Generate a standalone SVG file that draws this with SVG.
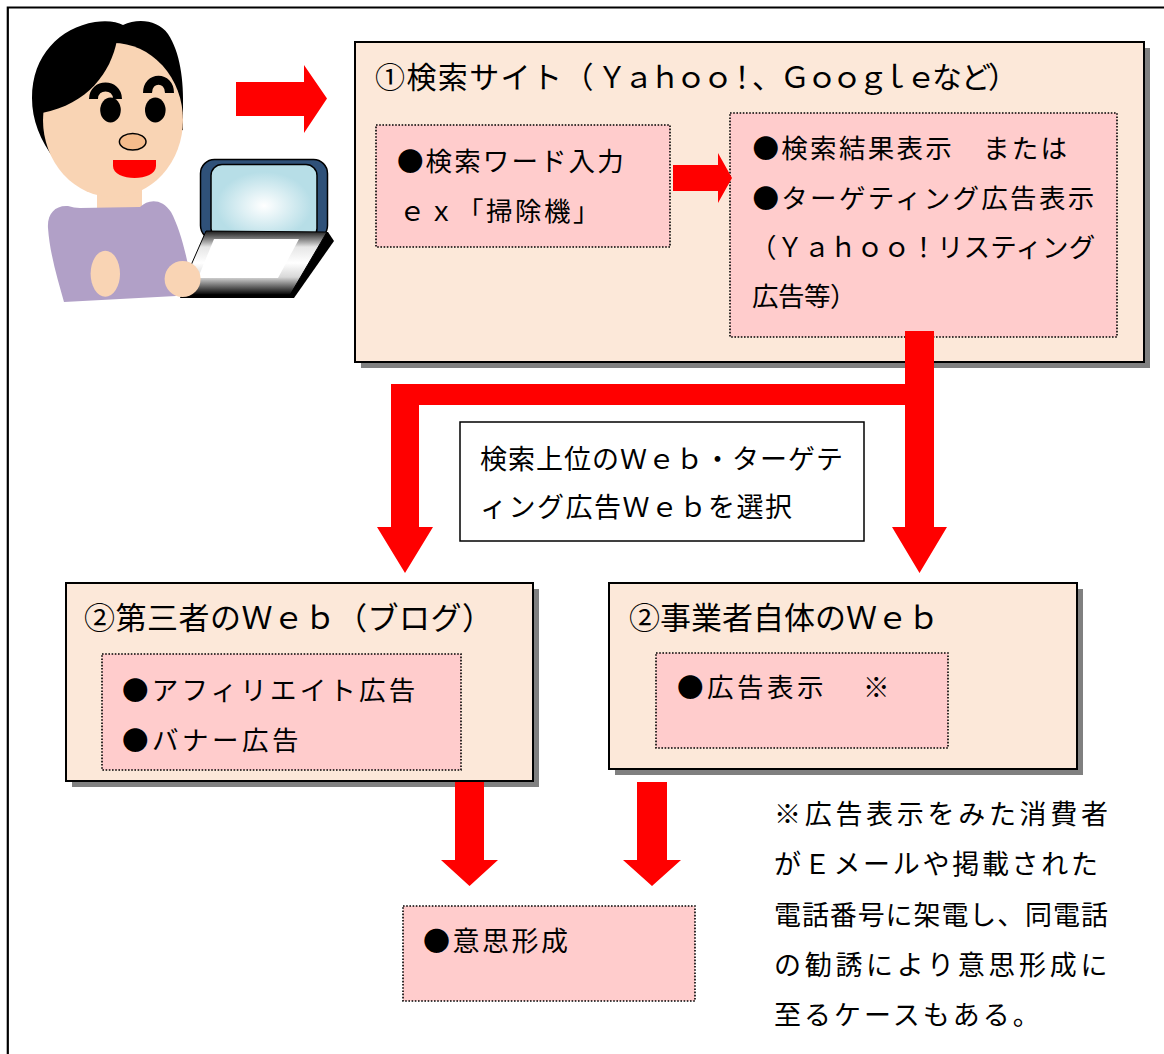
<svg xmlns="http://www.w3.org/2000/svg" width="1164" height="1054" viewBox="0 0 1164 1054">
  <style>
    text { font-family: "Noto Sans CJK JP", "Noto Sans CJK SC", sans-serif; fill: #000; }
    .box { fill: #FCE8D9; stroke: #000; stroke-width: 2; }
    .shadow { fill: #808080; }
    .inner { fill: #FFCCCC; stroke: #000; stroke-width: 1.6; stroke-dasharray: 1.6 1.6; }
    .arrow { fill: #FF0000; }
    .skin { fill: #F9D4B4; }
    .t30 { font-size: 30px; }
    .t31 { font-size: 31px; }
    .t26 { font-size: 26.5px; }
    .t27 { font-size: 27px; }
  </style>
  <defs>
    <radialGradient id="screenGlow" cx="0.5" cy="0.55" r="0.6">
      <stop offset="0" stop-color="#FFFFFF"/>
      <stop offset="0.75" stop-color="#B7DEE7"/>
      <stop offset="1" stop-color="#B7DEE7"/>
    </radialGradient>
    <linearGradient id="baseMetal" x1="0" y1="0" x2="0" y2="1">
      <stop offset="0" stop-color="#1A1A1A"/>
      <stop offset="0.25" stop-color="#E6E6E6"/>
      <stop offset="0.5" stop-color="#FFFFFF"/>
      <stop offset="0.72" stop-color="#D8D8D8"/>
      <stop offset="1" stop-color="#000000"/>
    </linearGradient>
  </defs>

  <rect width="1164" height="1054" fill="#FFFFFF"/>

  <!-- page frame -->
  <path d="M7.8,1054 V7.5 H1164" fill="none" stroke="#000" stroke-width="2.2"/>

  <!-- person at a laptop -->
  <g id="user">
    <rect class="skin" x="97" y="178" width="45" height="32"/>
    <path d="M123,25 C138,18 158,20 168,34 C180,52 184,80 183,110 L183,130 L55,160 C40,140 32,120 32,98 C32,55 60,28 95,22 C108,20 117,22 123,25 Z" fill="#000"/>
    <ellipse class="skin" cx="113" cy="120" rx="70" ry="77"/>
    <path d="M117,40 C111,72 88,104 42,113 L40,80 L80,30 Z" fill="#000"/>
    <path d="M93.5,99 C93.5,83 117.5,83 117.5,99" fill="none" stroke="#000" stroke-width="9"/>
    <path d="M147.5,93 C147.5,76 169.5,76 169.5,93" fill="none" stroke="#000" stroke-width="9"/>
    <ellipse cx="110.5" cy="110" rx="10.3" ry="12.5" fill="#000"/>
    <ellipse cx="155.3" cy="110" rx="10.3" ry="12.5" fill="#000"/>
    <ellipse cx="132.7" cy="141.7" rx="13.3" ry="8.3" fill="#F5BC8C" stroke="#000" stroke-width="1.5"/>
    <path d="M113,160 H156 V166 C156,182 113,182 113,166 Z" fill="#FF0000"/>
    <path d="M48,228 C47,214 55,205 68,206 C72,207 76,208 80,208 L140,207 C148,199 162,198 171,212 C178,225 184,245 188,265 L176,296 L64,302 C58,280 50,255 48,228 Z" fill="#B1A0C7"/>
    <ellipse class="skin" cx="105.3" cy="273.7" rx="14.7" ry="23"/>
    <!-- laptop -->
    <rect x="200.5" y="159.5" width="127" height="80" rx="14" fill="#2F5179" stroke="#000" stroke-width="1.5"/>
    <rect x="211" y="164.5" width="106" height="75" rx="11" fill="url(#screenGlow)" stroke="#000" stroke-width="1.5"/>
    <polygon points="206,231 328,232 334,241 294,298 180,298" fill="#000"/>
    <polygon points="206,231 327,232 290,295 178,295" fill="url(#baseMetal)" stroke="#000" stroke-width="1"/>
    <polygon points="214,239 299,239 278,278 198,278" fill="#FFFFFF"/>
    <circle class="skin" cx="182.6" cy="279" r="18"/>
  </g>

  <!-- step 1: search site -->
  <g id="search-site">
    <rect class="shadow" x="361" y="48" width="789" height="320"/>
    <rect class="box" x="355" y="42" width="789" height="320"/>
    <text class="t30" x="375 406.4 437.8 469.2 500.6 532 563.4 597 623.5 650 676 703 727 752 780 807 832 858 880 906 932 961 988" y="88">①検索サイト（Ｙａｈｏｏ！、Ｇｏｏｇｌｅなど）</text>
  </g>
  <g id="keyword-input">
    <rect class="inner" x="376" y="125" width="294" height="122"/>
    <text class="t26" x="397" y="171" letter-spacing="2.1">●検索ワード入力</text>
    <text class="t26" x="399" y="221" letter-spacing="2.5">ｅｘ「掃除機」</text>
  </g>
  <g id="search-results">
    <rect class="inner" x="730" y="113" width="387" height="224"/>
    <text class="t26" x="752.5" y="158" letter-spacing="2.3">●検索結果表示　または</text>
    <text class="t26" x="752.5" y="208" letter-spacing="2.3">●ターゲティング広告表示</text>
    <text class="t26" x="750" y="257" letter-spacing="0.2">（Ｙａｈｏｏ！リスティング</text>
    <text class="t26" x="752" y="306" letter-spacing="-0.5">広告等）</text>
  </g>

  <!-- choice label -->
  <g id="choice-label">
    <rect x="460" y="422" width="404" height="119" fill="#FFFFFF" stroke="#000" stroke-width="1.5"/>
    <text class="t27" x="480" y="469" letter-spacing="1">検索上位のＷｅｂ・ターゲテ</text>
    <text class="t27" x="480" y="517" letter-spacing="1.5">ィング広告Ｗｅｂを選択</text>
  </g>

  <!-- step 2: third-party web -->
  <g id="third-party-web">
    <rect class="shadow" x="72" y="589" width="467" height="198"/>
    <rect class="box" x="66" y="583" width="467" height="198"/>
    <text class="t31" x="84" y="629" letter-spacing="0.5">②第三者のＷｅｂ（ブログ）</text>
    <rect class="inner" x="102" y="654" width="359" height="116"/>
    <text class="t26" x="122" y="700" letter-spacing="3.2">●アフィリエイト広告</text>
    <text class="t26" x="122" y="750" letter-spacing="3.5">●バナー広告</text>
  </g>

  <!-- step 2: business's own web -->
  <g id="business-web">
    <rect class="shadow" x="615" y="589" width="468" height="186"/>
    <rect class="box" x="609" y="583" width="468" height="186"/>
    <text class="t31" x="629" y="629" letter-spacing="0">②事業者自体のＷｅｂ</text>
    <rect class="inner" x="656" y="653" width="292" height="95"/>
    <text class="t26" x="677" y="697" letter-spacing="3.5">●広告表示</text>
    <text class="t26" x="863" y="697">※</text>
  </g>

  <!-- decision -->
  <g id="decision">
    <rect class="inner" x="403" y="906" width="292" height="95"/>
    <text class="t27" x="423" y="951" letter-spacing="2.5">●意思形成</text>
  </g>

  <!-- note -->
  <g id="note">
    <text class="t27" x="774" y="824" letter-spacing="3.7">※広告表示をみた消費者</text>
    <text class="t27" x="774" y="874" letter-spacing="2.7">がＥメールや掲載された</text>
    <text class="t27" x="774" y="925" letter-spacing="0.9">電話番号に架電し、同電話</text>
    <text class="t27" x="774" y="975" letter-spacing="3.7">の勧誘により意思形成に</text>
    <text class="t27" x="774" y="1025" letter-spacing="3">至るケースもある。</text>
  </g>

  <!-- connectors -->
  <g id="connectors" class="arrow">
    <polygon points="236,82 304,82 304,65 327,98.5 304,133 304,116 236,116"/>
    <polygon points="673,165 718,165 718,153 732,178 718,203 718,191 673,191"/>
    <polygon points="905,331 934,331 934,527 947,527 919.5,573 892,527 905,527 905,405 419,405 419,527 433,527 405,573 377,527 391,527 391,384 905,384"/>
    <polygon points="455,782 484,782 484,860 498,860 469.5,886 441,860 455,860"/>
    <polygon points="637,782 667,782 667,860 681,860 652,886 623,860 637,860"/>
  </g>
</svg>
